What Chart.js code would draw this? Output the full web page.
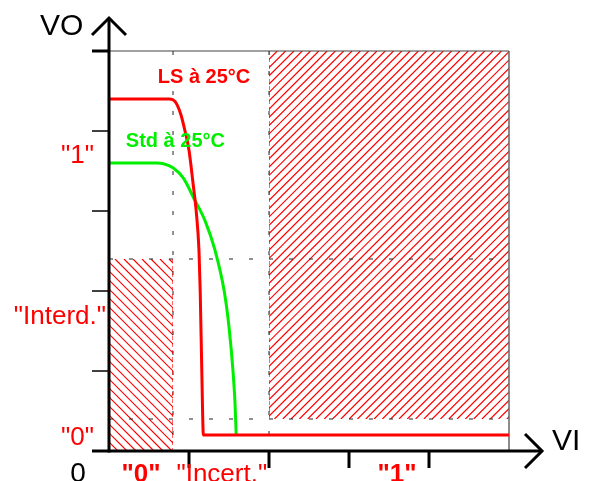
<!DOCTYPE html>
<html><head><meta charset="utf-8">
<script src="https://cdn.jsdelivr.net/npm/chart.js@4/dist/chart.umd.min.js"></script>
<style>html,body{margin:0;padding:0;background:#fff;overflow:hidden}canvas{display:block}</style>
</head><body>
<canvas id="c" width="593" height="481"></canvas>
<script>
// Transfer characteristics (Vi, Vo) in plot units
const lsX  = [0, 0.75, 0.80, 0.85, 0.90, 0.95, 1.00, 1.05, 1.09, 1.125, 1.14, 1.16, 1.18, 5];
const lsY  = [4.4, 4.4, 4.39, 4.33, 4.2, 4.0, 3.76, 3.35, 3.0, 2.5, 2.0, 1.0, 0.2, 0.2];
const stdX = [0, 0.60, 0.68, 0.80, 0.93, 1.06, 1.20, 1.325, 1.44, 1.50, 1.55, 1.575, 1.59];
const stdY = [3.6, 3.6, 3.59, 3.54, 3.41, 3.16, 2.88, 2.51, 2.0, 1.55, 1.0, 0.6, 0.2];
const xTicks = [1, 2, 3, 4];
const yTicks = [1, 2, 3, 4, 5];
const xLabels = ['"0"', '"Incert."', '"1"'];
const xLabelPos = [0.4, 1.41, 3.6];
const xLabelBold = [true, false, true];
const yLabels = ['"1"', '"Interd."', '"0"'];
const yLabelPos = [3.725, 1.71, 0.2];
const yLabelLeft = [-0.6, -1.19, -0.6];
const zoneLow = [0, 0.8, 0, 2.4];   // x0, x1, y0, y1
const zoneHigh = [2, 5, 0.4, 5];
const vGuides = [0.8, 2];
const hGuides = [2.4, 0.4];
const seriesNames = ['LS à 25°C', 'Std à 25°C'];
const seriesColors = ['#ff0000', '#00ee00'];
const seriesLabelAt = [[0.61, 4.69], [0.21, 3.89]];

const FONT = '"Liberation Sans", Arial, sans-serif';

function pts(xs, ys) { return xs.map((x, i) => ({x: x, y: ys[i]})); }

function hatch(ctx, x0, y0, x1, y1, dir, step) {
  ctx.save();
  ctx.beginPath(); ctx.rect(x0, y0, x1 - x0, y1 - y0); ctx.clip();
  ctx.strokeStyle = '#ff0000'; ctx.lineWidth = 1.2;
  ctx.beginPath();
  const h = y1 - y0;
  for (let x = x0 - h - step; x < x1 + h + step; x += step) {
    if (dir > 0) { ctx.moveTo(x, y1); ctx.lineTo(x + h, y0); }
    else { ctx.moveTo(x, y0); ctx.lineTo(x + h, y1); }
  }
  ctx.stroke();
  ctx.restore();
}

function line(ctx, x0, y0, x1, y1, color, w, dash) {
  ctx.save();
  ctx.strokeStyle = color; ctx.lineWidth = w;
  ctx.setLineDash(dash || []);
  ctx.beginPath(); ctx.moveTo(x0, y0); ctx.lineTo(x1, y1); ctx.stroke();
  ctx.restore();
}

const decor = {
  id: 'decor',
  beforeDatasetsDraw(chart) {
    const ctx = chart.ctx, xs = chart.scales.x, ys = chart.scales.y;
    const X = v => xs.getPixelForValue(v), Y = v => ys.getPixelForValue(v);
    hatch(ctx, X(zoneLow[0]), Y(zoneLow[3]), X(zoneLow[1]), Y(zoneLow[2]), -1, 9);
    hatch(ctx, X(zoneHigh[0]), Y(zoneHigh[3]), X(zoneHigh[1]), Y(zoneHigh[2]), 1, 8.3);
    vGuides.forEach(v => line(ctx, X(v), Y(5), X(v), Y(0), '#222', 1, [4, 16]));
    hGuides.forEach(v => line(ctx, X(0), Y(v), X(5), Y(v), '#222', 1, [4, 16]));
    line(ctx, X(zoneLow[1]) - 0.5, Y(zoneLow[3]), X(zoneLow[1]) - 0.5, Y(zoneLow[2]), 'rgba(255,0,0,0.6)', 1, [4, 3]);
    line(ctx, X(zoneHigh[0]) + 0.5, Y(zoneHigh[3]), X(zoneHigh[0]) + 0.5, Y(zoneHigh[2]), 'rgba(255,0,0,0.6)', 1, [4, 3]);
    line(ctx, X(0), Y(5), X(5), Y(5), '#444', 1.2);
    line(ctx, X(5), Y(5), X(5), Y(0), '#666', 1.5);
  },
  afterDatasetsDraw(chart) {
    const ctx = chart.ctx, xs = chart.scales.x, ys = chart.scales.y;
    const X = v => xs.getPixelForValue(v), Y = v => ys.getPixelForValue(v);
    const ox = X(0), oy = Y(0);
    line(ctx, ox, Y(5) - 33, ox, oy + 1.5, '#000', 3);
    line(ctx, ox - 17, oy, X(5) + 33, oy, '#000', 3);
    ctx.save();
    ctx.strokeStyle = '#000'; ctx.lineWidth = 3; ctx.lineCap = 'butt'; ctx.lineJoin = 'miter';
    ctx.beginPath();
    ctx.moveTo(ox - 17, Y(5) - 16); ctx.lineTo(ox, Y(5) - 33); ctx.lineTo(ox + 17, Y(5) - 16);
    ctx.stroke();
    ctx.beginPath();
    ctx.moveTo(X(5) + 16, oy - 17); ctx.lineTo(X(5) + 33, oy); ctx.lineTo(X(5) + 16, oy + 17);
    ctx.stroke();
    ctx.restore();
    yTicks.forEach(v => line(ctx, ox - 17, Y(v), ox, Y(v), '#000', v === 5 ? 3 : 1.5));
    xTicks.forEach(v => line(ctx, X(v), oy, X(v), oy + 17, '#000', 3));
    ctx.save();
    ctx.fillStyle = '#000';
    ctx.font = '30px ' + FONT;
    ctx.textAlign = 'left'; ctx.textBaseline = 'alphabetic';
    ctx.fillText('VO', ox - 69, Y(5) - 16);
    ctx.fillText('VI', X(5) + 43, oy - 1);
    ctx.font = '28px ' + FONT;
    ctx.textAlign = 'center';
    ctx.fillText('0', ox - 31, oy + 31);
    ctx.fillStyle = '#ff0000';
    ctx.font = '26px ' + FONT;
    ctx.textAlign = 'left';
    yLabels.forEach((t, i) => ctx.fillText(t, X(yLabelLeft[i]), Y(yLabelPos[i]) + 9.5));
    ctx.textAlign = 'center';
    xLabels.forEach((t, i) => {
      ctx.font = (xLabelBold[i] ? 'bold ' : '') + '26px ' + FONT;
      ctx.fillText(t, X(xLabelPos[i]), oy + 31);
    });
    ctx.font = 'bold 20px ' + FONT;
    ctx.textAlign = 'left';
    seriesNames.forEach((t, i) => {
      ctx.fillStyle = seriesColors[i];
      ctx.fillText(t, X(seriesLabelAt[i][0]), Y(seriesLabelAt[i][1]) + 7);
    });
    ctx.restore();
  }
};

new Chart(document.getElementById('c'), {
  type: 'scatter',
  data: {
    datasets: [
      {label: seriesNames[0], data: pts(lsX, lsY), showLine: true, borderColor: seriesColors[0],
       borderWidth: 3, pointRadius: 0, cubicInterpolationMode: 'monotone', clip: false},
      {label: seriesNames[1], data: pts(stdX, stdY), showLine: true, borderColor: seriesColors[1],
       borderWidth: 3, pointRadius: 0, cubicInterpolationMode: 'monotone', clip: false}
    ]
  },
  options: {
    responsive: false,
    animation: false,
    events: [],
    layout: {padding: {left: 109, top: 51, right: 84, bottom: 30}},
    plugins: {legend: {display: false}, tooltip: {enabled: false}},
    scales: {
      x: {type: 'linear', min: 0, max: 5, display: false},
      y: {type: 'linear', min: 0, max: 5, display: false}
    }
  },
  plugins: [decor]
});
</script>
</body></html>
